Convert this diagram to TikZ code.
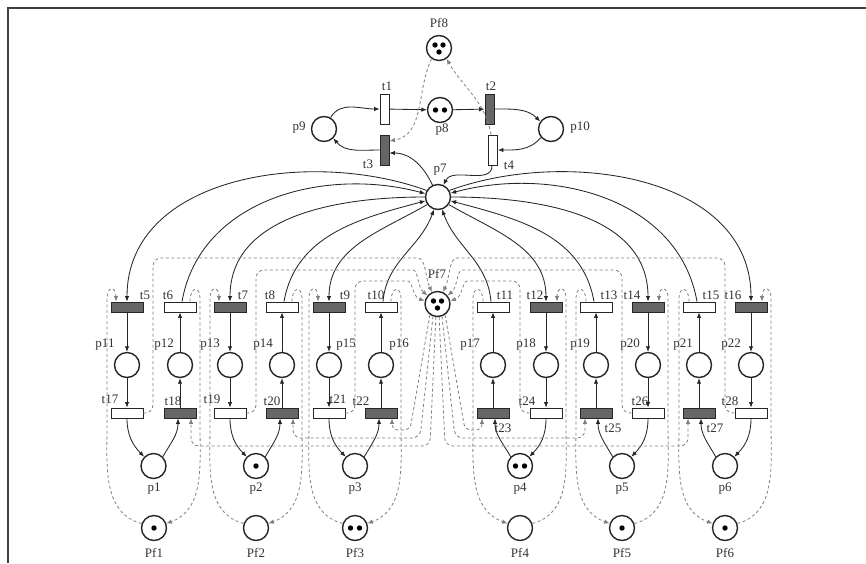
\documentclass[tikz,border=0pt]{standalone}
\usepackage{fontspec}
\setmainfont{Liberation Serif}
\usetikzlibrary{arrows.meta}

\begin{document}
\begin{tikzpicture}[
    x=1pt, y=-1pt,
    place/.style={circle, draw=black!85, line width=1.4pt, minimum size=25pt, inner sep=0pt},
    trans/.style={draw=black!85, line width=0.9pt, fill=white, minimum width=32pt, minimum height=10pt, inner sep=0pt},
    dtrans/.style={trans, fill=black!60},
    vtrans/.style={trans, minimum width=9pt, minimum height=30pt},
    dvtrans/.style={vtrans, fill=black!60},
    flow/.style={-{Latex[length=5.5pt, width=4.5pt]}, draw=black!85, line width=0.85pt},
    ctl/.style={flow, draw=black!50, line width=0.8pt, dash pattern=on 3pt off 2.5pt},
    lbl/.style={font=\fontsize{13}{15}\selectfont, text=black!80, inner sep=0pt},
    tok/.style={fill=black},
]

\useasboundingbox (0,0) rectangle (866,563);
\draw[line width=1.5pt, black!75] (8,563) -- (8,8) -- (866,8);

% Upper loop
\node[place] (pf8) at (439,48) {};
\node[vtrans] (t1) at (384.5,109) {};
\node[place] (p8) at (440,110) {};
\node[dvtrans] (t2) at (489.5,109) {};
\node[place] (p9) at (324,129) {};
\node[place] (p10) at (551,129) {};
\node[dvtrans] (t3) at (384.5,150) {};
\node[vtrans] (t4) at (493,150) {};
\node[place] (p7) at (438,197) {};
\node[place] (pf7) at (437.5,304) {};

% Upper row of transitions
\node[dtrans] (t5) at (127,307) {};
\node[trans] (t6) at (180,307) {};
\node[dtrans] (t7) at (230,307) {};
\node[trans] (t8) at (282,307) {};
\node[dtrans] (t9) at (329,307) {};
\node[trans] (t10) at (381,307) {};
\node[trans] (t11) at (493,307) {};
\node[dtrans] (t12) at (546,307) {};
\node[trans] (t13) at (596,307) {};
\node[dtrans] (t14) at (648,307) {};
\node[trans] (t15) at (699,307) {};
\node[dtrans] (t16) at (751,307) {};

% Middle row of places
\node[place] (p11) at (127,365) {};
\node[place] (p12) at (180,365) {};
\node[place] (p13) at (230,365) {};
\node[place] (p14) at (282,365) {};
\node[place] (p15) at (329,365) {};
\node[place] (p16) at (381,365) {};
\node[place] (p17) at (493,365) {};
\node[place] (p18) at (546,365) {};
\node[place] (p19) at (596,365) {};
\node[place] (p20) at (648,365) {};
\node[place] (p21) at (699,365) {};
\node[place] (p22) at (751,365) {};

% Lower row of transitions
\node[trans] (t17) at (127,413) {};
\node[dtrans] (t18) at (180,413) {};
\node[trans] (t19) at (230,413) {};
\node[dtrans] (t20) at (282,413) {};
\node[trans] (t21) at (329,413) {};
\node[dtrans] (t22) at (381,413) {};
\node[dtrans] (t23) at (493,413) {};
\node[trans] (t24) at (546,413) {};
\node[dtrans] (t25) at (596,413) {};
\node[trans] (t26) at (648,413) {};
\node[dtrans] (t27) at (699,413) {};
\node[trans] (t28) at (751,413) {};

% Resource places and their monitors
\node[place] (p1) at (153.5,466) {};
\node[place] (p2) at (256,466) {};
\node[place] (p3) at (355,466) {};
\node[place] (p4) at (520,466) {};
\node[place] (p5) at (622,466) {};
\node[place] (p6) at (725,466) {};
\node[place] (pf1) at (154,528) {};
\node[place] (pf2) at (256,528) {};
\node[place] (pf3) at (355,528) {};
\node[place] (pf4) at (520,528) {};
\node[place] (pf5) at (622,528) {};
\node[place] (pf6) at (725,528) {};

% Tokens
\fill[tok] (pf8) ++(-4,-3) circle (2.7pt) (pf8) ++(4,-3) circle (2.7pt) (pf8) ++(0,4) circle (2.7pt);
\fill[tok] (pf7) ++(-4,-3) circle (2.7pt) (pf7) ++(4,-3) circle (2.7pt) (pf7) ++(0,4) circle (2.7pt);
\fill[tok] (p8) ++(-4.5,0) circle (2.7pt) (p8) ++(4.5,0) circle (2.7pt);
\fill[tok] (p4) ++(-4.5,0) circle (2.7pt) (p4) ++(4.5,0) circle (2.7pt);
\fill[tok] (pf3) ++(-4.5,0) circle (2.7pt) (pf3) ++(4.5,0) circle (2.7pt);
\fill[tok] (p2) circle (2.7pt) (pf1) circle (2.7pt) (pf5) circle (2.7pt) (pf6) circle (2.7pt);

% Labels
\node[lbl] (lpf8) at (439,23) {Pf8};
\node[lbl] (lt1) at (387,86) {t1};
\node[lbl] (lt2) at (491,86) {t2};
\node[lbl] (lp8) at (442,130) {p8};
\node[lbl] (lp9) at (299,128) {p9};
\node[lbl] (lp10) at (580,128) {p10};
\node[lbl] (lt3) at (368,164) {t3};
\node[lbl] (lt4) at (509,165) {t4};
\node[lbl] (lp7) at (440,170) {p7};
\node[lbl] (lpf7) at (437,274) {Pf7};
\node[lbl] (lt5) at (145,295) {t5};
\node[lbl] (lt6) at (168,295) {t6};
\node[lbl] (lt7) at (243,295) {t7};
\node[lbl] (lt8) at (270,295) {t8};
\node[lbl] (lt9) at (345,295) {t9};
\node[lbl] (lt10) at (376,295) {t10};
\node[lbl] (lt11) at (505,295) {t11};
\node[lbl] (lt12) at (535,295) {t12};
\node[lbl] (lt13) at (609,295) {t13};
\node[lbl] (lt14) at (632,295) {t14};
\node[lbl] (lt15) at (711,295) {t15};
\node[lbl] (lt16) at (733,295) {t16};
\node[lbl] (lp11) at (105,345) {p11};
\node[lbl] (lp12) at (164,345) {p12};
\node[lbl] (lp13) at (210,345) {p13};
\node[lbl] (lp14) at (263,345) {p14};
\node[lbl] (lp15) at (346,345) {p15};
\node[lbl] (lp16) at (399,345) {p16};
\node[lbl] (lp17) at (470,345) {p17};
\node[lbl] (lp18) at (526,345) {p18};
\node[lbl] (lp19) at (580,345) {p19};
\node[lbl] (lp20) at (630,345) {p20};
\node[lbl] (lp21) at (683,345) {p21};
\node[lbl] (lp22) at (731,345) {p22};
\node[lbl] (lt17) at (110,399) {t17};
\node[lbl] (lt18) at (173,401) {t18};
\node[lbl] (lt19) at (212,399) {t19};
\node[lbl] (lt20) at (272,401) {t20};
\node[lbl] (lt21) at (338,399) {t21};
\node[lbl] (lt22) at (361,401) {t22};
\node[lbl] (lt23) at (503,428) {t23};
\node[lbl] (lt24) at (527,401) {t24};
\node[lbl] (lt25) at (613,428) {t25};
\node[lbl] (lt26) at (640,401) {t26};
\node[lbl] (lt27) at (715,428) {t27};
\node[lbl] (lt28) at (730,401) {t28};
\node[lbl] (lp1) at (154,489) {p1};
\node[lbl] (lp2) at (256,489) {p2};
\node[lbl] (lp3) at (355,489) {p3};
\node[lbl] (lp4) at (520,489) {p4};
\node[lbl] (lp5) at (622,489) {p5};
\node[lbl] (lp6) at (725,489) {p6};
\node[lbl] (lpf1) at (154,553) {Pf1};
\node[lbl] (lpf2) at (256,553) {Pf2};
\node[lbl] (lpf3) at (355,553) {Pf3};
\node[lbl] (lpf4) at (520,553) {Pf4};
\node[lbl] (lpf5) at (622,553) {Pf5};
\node[lbl] (lpf6) at (725,553) {Pf6};

% Arcs — upper loop
\draw[flow] (p9.60) to[out=60, in=180] (t1.west);
\draw[flow] (t1) -- (p8);
\draw[flow] (p8) -- (t2);
\draw[flow] (t2.east) to[out=0, in=135] (p10.145);
\draw[flow] (p10.-140) to[out=-130, in=0] (t4.east);
\draw[flow] (t3.west) to[out=180, in=-50] (p9.-45);
\draw[flow] (p7.115) to[out=115, in=0] ([yshift=-3pt]t3.east);
\draw[flow] ([xshift=-1pt]t4.south) to[out=-90, in=65] (p7.65);
\draw[ctl] (pf8.-125) to[out=-115, in=10] ([yshift=9pt]t3.east);
\draw[ctl] ([xshift=-2pt]t4.north) to[out=100, in=-60] (pf8.-55);

% Arcs — p7 and the upper row
\draw[flow] (p7.150) to[out=160, in=90] (t5.north);
\draw[flow] ([xshift=2pt]t6.north) to[out=80, in=165] (p7.165);
\draw[flow] (p7.180) to[out=180, in=90] (t7.north);
\draw[flow] ([xshift=2pt]t8.north) to[out=80, in=195] (p7.197);
\draw[flow] (p7.215) to[out=210, in=90] (t9.north);
\draw[flow] ([xshift=2pt]t10.north) to[out=85, in=-110] (p7.-108);
\draw[flow] ([xshift=-2pt]t11.north) to[out=95, in=-70] (p7.-72);
\draw[flow] (p7.-35) to[out=-30, in=90] (t12.north);
\draw[flow] ([xshift=-2pt]t13.north) to[out=100, in=-15] (p7.-17);
\draw[flow] (p7.0) to[out=0, in=90] (t14.north);
\draw[flow] ([xshift=-2pt]t15.north) to[out=100, in=15] (p7.17);
\draw[flow] (p7.30) to[out=20, in=90] (t16.north);

% Group p1
\draw[flow] (t5) -- (p11);
\draw[flow] (p11) -- (t17);
\draw[flow] (t17.south) to[out=-90, in=135] (p1.135);
\draw[flow] (p1.45) to[out=60, in=-90] ([xshift=-2pt]t18.south);
\draw[flow] (t18) -- (p12);
\draw[flow] (p12) -- (t6);
\draw[ctl] (pf1.160) to[out=165, in=-90] (107,425) -- (107,298) .. controls (107,286) and (116,286) .. ([xshift=-11pt]t5.north);
\draw[ctl] ([xshift=10pt]t6.north) .. controls (190,286) and (200,286) .. (200,298) -- (200,425) to[out=-90, in=20] (pf1.20);
\draw[ctl, rounded corners=8pt] (t17.east) -| (153,258) -- (410,258) to[out=0, in=115] (pf7.115);
\draw[ctl, rounded corners=8pt] (pf7.-97) -- (430,446) -- (191,446) -- ([xshift=11pt]t18.south);

% Group p2
\draw[flow] (t7) -- (p13);
\draw[flow] (p13) -- (t19);
\draw[flow] (t19.south) to[out=-90, in=135] (p2.135);
\draw[flow] (p2.45) to[out=60, in=-90] ([xshift=-2pt]t20.south);
\draw[flow] (t20) -- (p14);
\draw[flow] (p14) -- (t8);
\draw[ctl] (pf2.160) to[out=165, in=-90] (210,425) -- (210,298) .. controls (210,286) and (219,286) .. ([xshift=-11pt]t7.north);
\draw[ctl] ([xshift=10pt]t8.north) .. controls (292,286) and (302,286) .. (302,298) -- (302,425) to[out=-90, in=20] (pf2.20);
\draw[ctl, rounded corners=8pt] (t19.east) -| (256,270) -- (405,270) to[out=0, in=140] (pf7.140);
\draw[ctl, rounded corners=8pt] (pf7.-110) -- (420,438) -- (293,438) -- ([xshift=11pt]t20.south);

% Group p3
\draw[flow] (t9) -- (p15);
\draw[flow] (p15) -- (t21);
\draw[flow] (t21.south) to[out=-90, in=135] (p3.135);
\draw[flow] (p3.45) to[out=60, in=-90] ([xshift=-2pt]t22.south);
\draw[flow] (t22) -- (p16);
\draw[flow] (p16) -- (t10);
\draw[ctl] (pf3.160) to[out=165, in=-90] (309,425) -- (309,298) .. controls (309,286) and (318,286) .. ([xshift=-11pt]t9.north);
\draw[ctl] ([xshift=10pt]t10.north) .. controls (391,286) and (401,286) .. (401,298) -- (401,425) to[out=-90, in=20] (pf3.20);
\draw[ctl, rounded corners=8pt] (t21.east) -| (355,281) -- (400,281) to[out=0, in=165] (pf7.165);
\draw[ctl, rounded corners=6pt] (pf7.-125) -- (410,430) -- (392,430) -- ([xshift=11pt]t22.south);

% Group p4
\draw[flow] (t12) -- (p18);
\draw[flow] (p18) -- (t24);
\draw[flow] (t24.south) to[out=-90, in=45] (p4.45);
\draw[flow] (p4.135) to[out=120, in=-90] ([xshift=2pt]t23.south);
\draw[flow] (t23) -- (p17);
\draw[flow] (p17) -- (t11);
\draw[ctl] (pf4.20) to[out=15, in=-90] (566,425) -- (566,298) .. controls (566,286) and (557,286) .. ([xshift=11pt]t12.north);
\draw[ctl] ([xshift=-10pt]t11.north) .. controls (483,286) and (473,286) .. (473,298) -- (473,425) to[out=-90, in=160] (pf4.160);
\draw[ctl, rounded corners=8pt] (t24.west) -| (520,281) -- (475,281) to[out=180, in=15] (pf7.15);
\draw[ctl, rounded corners=6pt] (pf7.-55) -- (465,430) -- (482,430) -- ([xshift=-11pt]t23.south);

% Group p5
\draw[flow] (t14) -- (p20);
\draw[flow] (p20) -- (t26);
\draw[flow] (t26.south) to[out=-90, in=45] (p5.45);
\draw[flow] (p5.135) to[out=120, in=-90] ([xshift=2pt]t25.south);
\draw[flow] (t25) -- (p19);
\draw[flow] (p19) -- (t13);
\draw[ctl] (pf5.20) to[out=15, in=-90] (668,425) -- (668,298) .. controls (668,286) and (659,286) .. ([xshift=11pt]t14.north);
\draw[ctl] ([xshift=-10pt]t13.north) .. controls (586,286) and (576,286) .. (576,298) -- (576,425) to[out=-90, in=160] (pf5.160);
\draw[ctl, rounded corners=8pt] (t26.west) -| (622,270) -- (470,270) to[out=180, in=40] (pf7.40);
\draw[ctl, rounded corners=8pt] (pf7.-70) -- (455,438) -- (585,438) -- ([xshift=-11pt]t25.south);

% Group p6
\draw[flow] (t16) -- (p22);
\draw[flow] (p22) -- (t28);
\draw[flow] (t28.south) to[out=-90, in=45] (p6.45);
\draw[flow] (p6.135) to[out=120, in=-90] ([xshift=2pt]t27.south);
\draw[flow] (t27) -- (p21);
\draw[flow] (p21) -- (t15);
\draw[ctl] (pf6.20) to[out=15, in=-90] (771,425) -- (771,298) .. controls (771,286) and (762,286) .. ([xshift=11pt]t16.north);
\draw[ctl] ([xshift=-10pt]t15.north) .. controls (689,286) and (679,286) .. (679,298) -- (679,425) to[out=-90, in=160] (pf6.160);
\draw[ctl, rounded corners=8pt] (t28.west) -| (725,258) -- (465,258) to[out=180, in=65] (pf7.65);
\draw[ctl, rounded corners=8pt] (pf7.-83) -- (445,446) -- (688,446) -- ([xshift=-11pt]t27.south);

\end{tikzpicture}
\end{document}
